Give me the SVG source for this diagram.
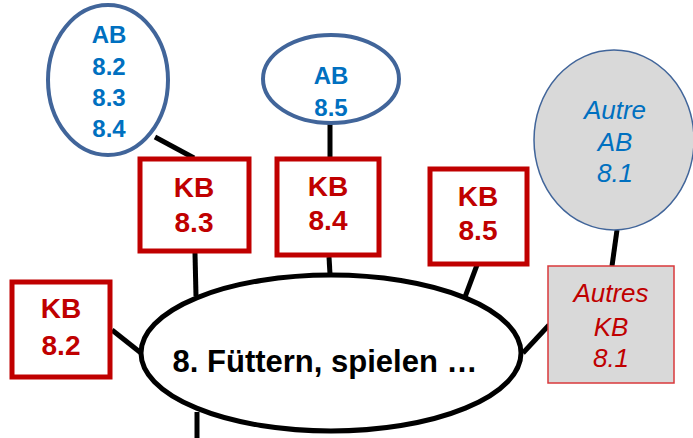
<svg xmlns="http://www.w3.org/2000/svg" width="693" height="438" viewBox="0 0 693 438">
  <style>
    .link { stroke: #000; stroke-width: 5; fill: none; }
    .kb { fill: #fff; stroke: #C00000; stroke-width: 5; }
    .kb-other { fill: #D9D9D9; stroke: #D9383B; stroke-width: 1.5; }
    .ab { fill: #fff; stroke: #41659A; stroke-width: 4; }
    .ab-other { fill: #D9D9D9; stroke: #41659A; stroke-width: 1.5; }
    .kbt { font-family: "Liberation Sans", Arial, sans-serif; font-weight: bold; font-size: 28px; fill: #C00000; text-anchor: middle; }
    .abt { font-family: "Liberation Sans", Arial, sans-serif; font-weight: bold; font-size: 24px; fill: #0070C0; text-anchor: middle; }
    .kbi { font-family: "Liberation Sans", Arial, sans-serif; font-style: italic; font-size: 26px; fill: #C00000; text-anchor: middle; }
    .abi { font-family: "Liberation Sans", Arial, sans-serif; font-style: italic; font-size: 26px; fill: #0070C0; text-anchor: middle; }
    .main { font-family: "Liberation Sans", Arial, sans-serif; font-weight: bold; font-size: 31px; fill: #000; text-anchor: middle; }
  </style>

  <!-- connectors -->
  <g id="connectors">
    <line class="link" x1="197" y1="412" x2="197" y2="438"/>
    <line class="link" x1="112" y1="330" x2="141" y2="353"/>
    <line class="link" x1="195" y1="253" x2="196" y2="296"/>
    <line class="link" x1="155" y1="137" x2="194" y2="158"/>
    <line class="link" x1="329" y1="257" x2="330" y2="274"/>
    <line class="link" x1="330" y1="123" x2="330" y2="158"/>
    <line class="link" x1="477" y1="265" x2="465" y2="297"/>
    <line class="link" x1="617" y1="230" x2="612" y2="266"/>
    <line class="link" x1="523" y1="353" x2="549" y2="325"/>
  </g>

  <!-- central topic -->
  <g id="topic">
    <ellipse cx="331" cy="353" rx="190" ry="78" fill="#fff" stroke="#000" stroke-width="5"/>
    <text class="main" x="325" y="372">8. Füttern, spielen …</text>
  </g>

  <g id="kb82">
    <rect class="kb" x="12" y="282" width="98" height="95"/>
    <text class="kbt" x="61" y="318">KB</text>
    <text class="kbt" x="61" y="355">8.2</text>
  </g>

  <g id="kb83">
    <rect class="kb" x="140" y="159" width="109" height="92"/>
    <text class="kbt" x="194" y="197">KB</text>
    <text class="kbt" x="194" y="232">8.3</text>
  </g>

  <g id="kb84">
    <rect class="kb" x="277" y="159" width="102" height="96"/>
    <text class="kbt" x="328" y="196">KB</text>
    <text class="kbt" x="328" y="230">8.4</text>
  </g>

  <g id="kb85">
    <rect class="kb" x="430" y="169" width="97" height="95"/>
    <text class="kbt" x="478" y="206">KB</text>
    <text class="kbt" x="478" y="240">8.5</text>
  </g>

  <g id="kb-other">
    <rect class="kb-other" x="548" y="266" width="126" height="117"/>
    <text class="kbi" x="611" y="302">Autres</text>
    <text class="kbi" x="611" y="336">KB</text>
    <text class="kbi" x="611" y="367">8.1</text>
  </g>

  <g id="ab82-84">
    <ellipse class="ab" cx="108" cy="80" rx="60" ry="75"/>
    <text class="abt" x="109" y="43">AB</text>
    <text class="abt" x="109" y="75">8.2</text>
    <text class="abt" x="109" y="106">8.3</text>
    <text class="abt" x="109" y="137">8.4</text>
  </g>

  <g id="ab85">
    <ellipse class="ab" cx="331" cy="79" rx="68" ry="44"/>
    <text class="abt" x="331" y="84">AB</text>
    <text class="abt" x="331" y="116">8.5</text>
  </g>

  <g id="ab-other">
    <ellipse class="ab-other" cx="614" cy="140" rx="80" ry="90"/>
    <text class="abi" x="615" y="119">Autre</text>
    <text class="abi" x="615" y="151">AB</text>
    <text class="abi" x="615" y="182">8.1</text>
  </g>
</svg>
